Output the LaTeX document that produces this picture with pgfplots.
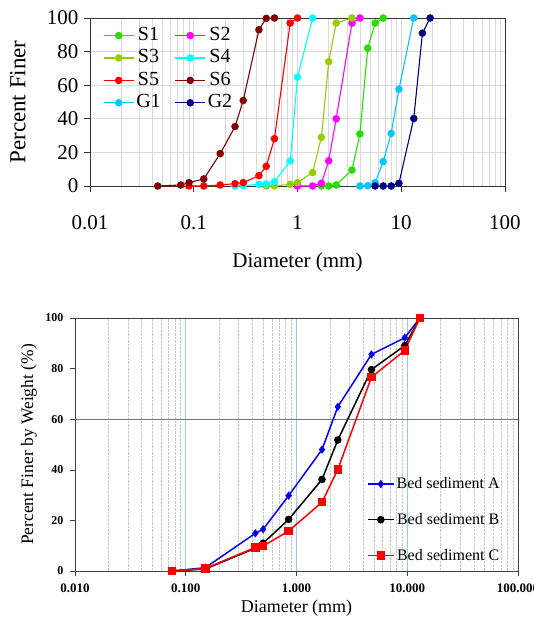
\documentclass[border=0pt]{standalone}
\usepackage{fontspec}
\setmainfont{Liberation Serif}
\usepackage{pgfplots}
\pgfplotsset{compat=1.18}
\definecolor{cS1}{RGB}{40,220,0}
\definecolor{cS2}{RGB}{255,0,255}
\definecolor{cS3}{RGB}{153,204,0}
\definecolor{cS4}{RGB}{0,255,255}
\definecolor{cS5}{RGB}{255,0,0}
\definecolor{cS6}{RGB}{128,0,0}
\definecolor{cG1}{RGB}{0,200,255}
\definecolor{cG2}{RGB}{0,0,128}
\definecolor{gridblue}{RGB}{160,195,235}
\begin{document}
\begin{tikzpicture}
\path[use as bounding box] (0pt,0pt) rectangle (534pt,619pt);
% ---------------- top chart ----------------
\begin{axis}[
  at={(90pt,433pt)}, anchor=south west, scale only axis,
  width=415pt, height=168pt, clip=false,
  xmode=log, xmin=0.01, xmax=100, ymin=0, ymax=100,
  xtick={0.01,0.1,1,10,100}, xticklabels={0.01,0.1,1,10,100},
  ytick={0,20,40,60,80,100}, yticklabels={0,20,40,60,80,100},
  tick align=outside, major tick length=6pt, minor tick length=0pt,
  tick pos=left,
  axis line style={black!80, line width=0.8pt},
  major tick style={black!80, line width=0.6pt},
  xmajorgrids, xminorgrids, ymajorgrids,
  major grid style={black!15, line width=0.6pt},
  minor grid style={black!15, line width=0.6pt},
  tick label style={font=\fontsize{21}{24}\selectfont},
  xticklabel style={yshift=-20pt},
  yticklabel style={xshift=-2pt},
  xlabel={Diameter (mm)},
  xlabel style={font=\fontsize{21}{24}\selectfont, at={(axis description cs:0.5,-0.38)}, anchor=north},
  ylabel={Percent Finer},
  ylabel style={font=\fontsize{23}{26}\selectfont, at={(axis description cs:-0.1735,0.5)}, anchor=center},
  every axis plot/.append style={line width=1.1pt, mark=*, mark size=3.2pt},
  legend image code/.code={\draw[mark repeat=2, mark phase=2] plot coordinates {(0pt,0pt) (15pt,0pt) (30pt,0pt)};},
  legend style={at={(axis description cs:0.024,0.975)}, anchor=north west, draw=none, fill=none,
    font=\fontsize{20}{22}\selectfont, legend columns=2, row sep=0pt,
    nodes={text height=15pt, text depth=5pt, inner ysep=1.2pt},
    /tikz/every even column/.append style={column sep=12pt}},
]
\addplot[color=cS1] coordinates {(1.7,0) (2.0,0) (2.36,0.6) (3.35,9.5) (4.0,31) (4.75,82) (5.6,97) (6.7,100)};
\addlegendentry{S1}
\addplot[color=cS2] coordinates {(1.0,0) (1.4,0) (1.7,1.6) (2.0,15) (2.36,40) (3.35,97) (4.0,100)};
\addlegendentry{S2}
\addplot[color=cS3] coordinates {(0.5,0) (0.6,0) (0.85,1) (1.0,2) (1.4,8) (1.7,29) (2.0,74) (2.36,97) (3.35,100)};
\addlegendentry{S3}
\addplot[color=cS4] coordinates {(0.25,0) (0.3,0.3) (0.425,1) (0.5,1.2) (0.6,2.6) (0.85,14.9) (1.0,64.8) (1.4,100)};
\addlegendentry{S4}
\addplot[color=cS5] coordinates {(0.09,0) (0.125,0) (0.18,0.6) (0.25,1.4) (0.3,2) (0.425,6.2) (0.5,11.7) (0.6,28.2) (0.85,97) (1.0,100)};
\addlegendentry{S5}
\addplot[color=cS6] coordinates {(0.045,0) (0.075,0.6) (0.09,2) (0.125,4.2) (0.18,19.3) (0.25,35.4) (0.3,50.9) (0.425,93) (0.5,99.8) (0.6,100)};
\addlegendentry{S6}
\addplot[color=cG1] coordinates {(4.0,0) (4.75,0.2) (5.6,2) (6.7,14.5) (8.0,31.3) (9.5,57.6) (13.2,100)};
\addlegendentry{G1}
\addplot[color=cG2] coordinates {(5.6,0) (6.7,0) (8.0,0) (9.5,1.6) (13.2,40.2) (16,91) (19,100)};
\addlegendentry{G2}
\end{axis}
% ---------------- bottom chart ----------------
\begin{axis}[
  at={(75pt,48pt)}, anchor=south west, scale only axis,
  width=443pt, height=253pt, clip=false,
  xmode=log, xmin=0.01, xmax=100, ymin=0, ymax=100,
  xtick={0.01,0.1,1,10,100}, xticklabels={0.010,0.100,1.000,10.000,100.000},
  ytick={0,20,40,60,80,100}, yticklabels={0,20,40,60,80,100},
  tick align=outside, major tick length=5pt, minor tick length=0pt,
  tick pos=left,
  axis line style={black!75, line width=0.8pt},
  major tick style={black!75, line width=0.6pt},
  xmajorgrids, xminorgrids,
  major grid style={gridblue, line width=0.7pt},
  minor grid style={black!22, densely dotted, line width=0.6pt},
  extra y ticks={60}, extra y tick labels={},
  extra y tick style={ymajorgrids=true, major grid style={black!55, line width=0.6pt}},
  xticklabel style={font=\bfseries\fontsize{13}{15}\selectfont, yshift=-4pt},
  yticklabel style={font=\bfseries\fontsize{12}{14}\selectfont, xshift=-3pt},
  xlabel={Diameter (mm)},
  xlabel style={font=\fontsize{18}{21}\selectfont, at={(axis description cs:0.5,-0.1)}, anchor=north},
  ylabel={Percent Finer by Weight (\%)},
  ylabel style={font=\fontsize{17.5}{20}\selectfont, at={(axis description cs:-0.104,0.5)}, anchor=center},
  legend image code/.code={\draw[mark repeat=2, mark phase=2, line width=1.6pt] plot coordinates {(0pt,0pt) (13pt,0pt) (26pt,0pt)};},
  legend style={at={(axis description cs:0.652,0.385)}, anchor=north west, draw=none, fill=none,
    font=\fontsize{16}{18}\selectfont, row sep=19pt},
]
\addplot[color=blue, line width=1.5pt, mark=diamond*, mark size=3pt, mark options={fill=blue!60!black}] coordinates {(0.075,0) (0.15,1.3) (0.425,14.9) (0.5,16.5) (0.85,29.8) (1.7,48) (2.36,64.9) (4.75,85.6) (9.5,92.2) (13,100)};
\addlegendentry{Bed sediment A}
\addplot[color=black, line width=1.5pt, mark=*, mark size=3pt] coordinates {(0.075,0) (0.15,0.8) (0.425,9) (0.5,11) (0.85,20.4) (1.7,36.2) (2.36,51.8) (4.75,79.6) (9.5,89.1) (13,100)};
\addlegendentry{Bed sediment B}
\addplot[color=red, line width=1.5pt, mark=square*, mark size=3.5pt] coordinates {(0.075,0) (0.15,1) (0.425,9.3) (0.5,9.9) (0.85,15.8) (1.7,27.2) (2.36,40.1) (4.75,76.6) (9.5,87.2) (13,100)};
\addlegendentry{Bed sediment C}
\end{axis}
\end{tikzpicture}
\end{document}
